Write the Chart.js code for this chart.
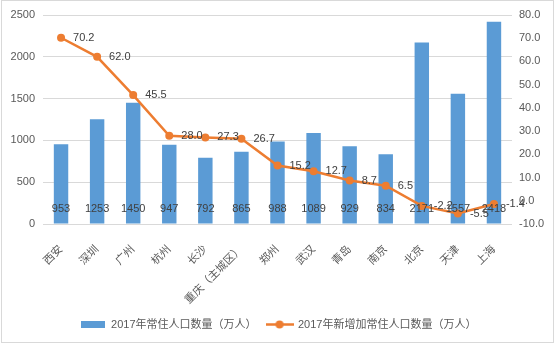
<!DOCTYPE html>
<html>
<head>
<meta charset="utf-8">
<script src="https://cdn.jsdelivr.net/npm/chart.js"></script>
<style>
  html, body { margin: 0; padding: 0; background: #fff; }
  #wrap { position: relative; width: 556px; height: 346px; }
  #frame {
    position: absolute; left: 1px; top: 0; width: 553px; height: 343px;
    box-sizing: border-box; border: 1px solid #d9d9d9; pointer-events: none;
  }
</style>
</head>
<body>
<div id="wrap">
  <canvas id="chart" width="556" height="346"></canvas>
  <div id="frame"></div>
</div>
<script>
// City names along the x axis
const cities = ['西安', '深圳', '广州', '杭州', '长沙', '重庆（主城区）', '郑州', '武汉', '青岛', '南京', '北京', '天津', '上海'];

// 2017 resident population (10k people), left axis
const population = [953, 1253, 1450, 947, 792, 865, 988, 1089, 929, 834, 2171, 1557, 2418];

// 2017 population increase (10k people), right axis
const increase = [70.2, 62.0, 45.5, 28.0, 27.3, 26.7, 15.2, 12.7, 8.7, 6.5, -2.2, -5.5, -1.4];

const seriesNames = ['2017年常住人口数量（万人）', '2017年新增加常住人口数量（万人）'];

const BLUE = '#5B9BD5';
const ORANGE = '#ED7D31';
const TICK_COLOR = '#595959';
const LABEL_COLOR = '#404040';

Chart.defaults.font.family = "'Liberation Sans', 'Noto Sans CJK SC', sans-serif";
Chart.defaults.font.size = 11;
Chart.defaults.color = TICK_COLOR;

// Small legend icons (bar swatch, line with marker)
function makeBarIcon() {
  const c = document.createElement('canvas');
  c.width = 24; c.height = 7;
  const ctx = c.getContext('2d');
  ctx.fillStyle = BLUE;
  ctx.fillRect(0, 0, 24, 7);
  return c;
}

function makeLineIcon() {
  const c = document.createElement('canvas');
  c.width = 28; c.height = 9;
  const ctx = c.getContext('2d');
  ctx.strokeStyle = ORANGE;
  ctx.lineWidth = 2.5;
  ctx.beginPath();
  ctx.moveTo(0, 4.5);
  ctx.lineTo(28, 4.5);
  ctx.stroke();
  ctx.fillStyle = ORANGE;
  ctx.beginPath();
  ctx.arc(14, 4.5, 4, 0, Math.PI * 2);
  ctx.fill();
  return c;
}

const legendIcons = [makeBarIcon(), makeLineIcon()];

// Value labels: bars near their base, line points to the right
const valueLabels = {
  id: 'valueLabels',
  afterDatasetsDraw(chart) {
    const ctx = chart.ctx;
    ctx.save();
    ctx.font = "11px 'Liberation Sans', 'Noto Sans CJK SC', sans-serif";
    ctx.fillStyle = LABEL_COLOR;
    ctx.textBaseline = 'middle';

    const barMeta = chart.getDatasetMeta(0);
    ctx.textAlign = 'center';
    barMeta.data.forEach((bar, i) => {
      ctx.fillText(String(population[i]), bar.x, bar.base - 15);
    });

    const lineMeta = chart.getDatasetMeta(1);
    ctx.textAlign = 'left';
    lineMeta.data.forEach((pt, i) => {
      ctx.fillText(increase[i].toFixed(1), pt.x + 12, pt.y);
    });
    ctx.restore();
  }
};

new Chart(document.getElementById('chart'), {
  type: 'bar',
  data: {
    labels: cities,
    datasets: [
      {
        type: 'bar',
        label: seriesNames[0],
        data: population,
        backgroundColor: BLUE,
        yAxisID: 'y',
        categoryPercentage: 1,
        barPercentage: 0.4,
        order: 2
      },
      {
        type: 'line',
        label: seriesNames[1],
        data: increase,
        borderColor: ORANGE,
        backgroundColor: ORANGE,
        borderWidth: 2.5,
        pointRadius: 4,
        pointBackgroundColor: ORANGE,
        pointBorderWidth: 0,
        yAxisID: 'y2',
        order: 1
      }
    ]
  },
  options: {
    responsive: false,
    animation: false,
    layout: { padding: { left: 0, right: 0, top: 15, bottom: 6 } },
    plugins: {
      tooltip: { enabled: false },
      legend: {
        position: 'bottom',
        labels: {
          usePointStyle: true,
          pointStyleWidth: 26,
          padding: 10,
          color: TICK_COLOR,
          font: { size: 11 },
          sort: (a, b) => a.datasetIndex - b.datasetIndex,
          generateLabels(chart) {
            const items = Chart.defaults.plugins.legend.labels.generateLabels(chart);
            items.forEach(item => { item.pointStyle = legendIcons[item.datasetIndex]; });
            return items;
          }
        }
      }
    },
    scales: {
      x: {
        grid: { display: false },
        border: { display: false },
        ticks: { minRotation: 45, maxRotation: 45, padding: 11, color: TICK_COLOR, autoSkip: false },
        afterFit(scale) { scale.height = 85; }
      },
      y: {
        position: 'left',
        min: 0,
        max: 2500,
        ticks: { stepSize: 500, padding: 8, color: TICK_COLOR, callback: (v) => String(v) },
        grid: { color: '#d9d9d9', drawTicks: false },
        border: { display: false },
        afterFit(scale) { scale.width = 43; }
      },
      y2: {
        position: 'right',
        min: -10,
        max: 80,
        ticks: {
          stepSize: 10,
          padding: 7,
          color: TICK_COLOR,
          callback: (v) => Number(v).toFixed(1)
        },
        grid: { display: false, drawTicks: false },
        border: { display: false },
        afterFit(scale) { scale.width = 44; }
      }
    }
  },
  plugins: [valueLabels]
});
</script>
</body>
</html>
